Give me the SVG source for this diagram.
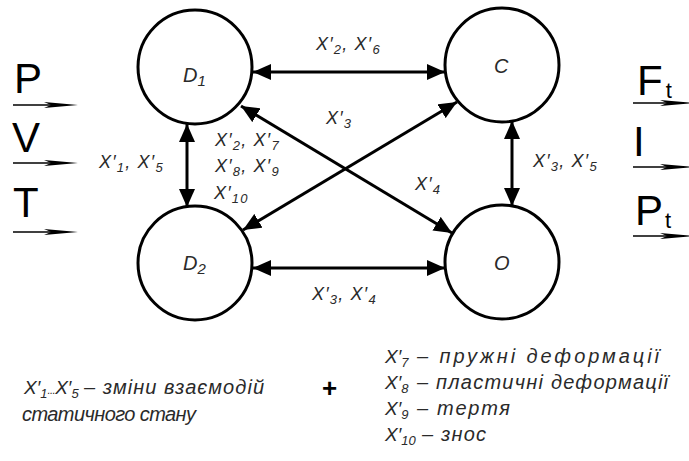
<svg xmlns="http://www.w3.org/2000/svg" width="689" height="461" viewBox="0 0 689 461">
<style>
.node{fill:#fff;stroke:#000;stroke-width:3}
.con{stroke:#000;stroke-width:3;fill:none}
.lbl{font-family:"Liberation Sans",Arial,sans-serif;font-style:italic;font-size:18px;fill:#2a2a2a;letter-spacing:1.2px}
.nl{font-family:"Liberation Sans",Arial,sans-serif;font-style:italic;font-size:20px;fill:#2a2a2a}
.big{font-family:"Liberation Sans",Arial,sans-serif;font-size:42px;fill:#000}
.leg{font-family:"Liberation Sans",Arial,sans-serif;font-style:italic;font-size:20px;fill:#2a2a2a}
.legx{font-family:"Liberation Sans",Arial,sans-serif;font-style:italic;font-size:19px;fill:#2a2a2a}
.sub{font-size:13px}
.thin{stroke:#000;stroke-width:1.3}
</style>
<defs>
<marker id="ah" markerUnits="userSpaceOnUse" markerWidth="18" markerHeight="16" viewBox="0 0 18 16" refX="18" refY="8" orient="auto-start-reverse">
<path d="M0,0 L18,8 L0,16 z" fill="#000"/>
</marker>
<path id="ih" d="M0,-3 L34,0 L0,3 L7,0 z" fill="#000"/>
</defs>
<rect width="689" height="461" fill="#fff"/>

<g id="inputs">
<text class="big" x="14" y="93">P</text>
<line class="thin" x1="13" y1="105" x2="60" y2="105"/>
<use href="#ih" x="44" y="105"/>
<text class="big" x="12" y="152">V</text>
<line class="thin" x1="13" y1="163" x2="60" y2="163"/>
<use href="#ih" x="44" y="163"/>
<text class="big" x="13" y="217">T</text>
<line class="thin" x1="13" y1="232" x2="60" y2="232"/>
<use href="#ih" x="44" y="232"/>
</g>

<g id="outputs">
<text class="big" x="637" y="95">F<tspan font-size="22" dx="3" dy="3">t</tspan></text>
<line class="thin" x1="633" y1="103" x2="670" y2="103"/>
<use href="#ih" x="660" y="103"/>
<text class="big" x="633" y="156">I</text>
<line class="thin" x1="633" y1="167" x2="670" y2="167"/>
<use href="#ih" x="660" y="167"/>
<text class="big" x="635" y="225">P<tspan font-size="22" dx="2" dy="3">t</tspan></text>
<line class="thin" x1="633" y1="236" x2="670" y2="236"/>
<use href="#ih" x="660" y="236"/>
</g>

<g id="connectors">
<line class="con" x1="253" y1="72" x2="445" y2="72" marker-start="url(#ah)" marker-end="url(#ah)"/>
<line class="con" x1="253" y1="268" x2="445" y2="268" marker-start="url(#ah)" marker-end="url(#ah)"/>
<line class="con" x1="187" y1="124" x2="187" y2="207" marker-start="url(#ah)" marker-end="url(#ah)"/>
<line class="con" x1="512" y1="121" x2="512" y2="206" marker-start="url(#ah)" marker-end="url(#ah)"/>
<line class="con" x1="241" y1="106" x2="452" y2="233" marker-start="url(#ah)" marker-end="url(#ah)"/>
<line class="con" x1="243" y1="230" x2="457" y2="102" marker-start="url(#ah)" marker-end="url(#ah)"/>
</g>

<g id="D1"><circle class="node" cx="195" cy="67" r="57"/><text class="nl" x="183" y="82">D<tspan font-size="15" dy="4">1</tspan></text></g>
<g id="D2"><circle class="node" cx="195" cy="263" r="57"/><text class="nl" x="183" y="270">D<tspan font-size="15" dy="4">2</tspan></text></g>
<g id="C"><circle class="node" cx="502" cy="65" r="57"/><text class="nl" x="494" y="73">C</text></g>
<g id="O"><circle class="node" cx="502" cy="262" r="57"/><text class="nl" x="494" y="270">O</text></g>

<g id="labels">
<text class="lbl" x="316" y="50">X′<tspan class="sub" dy="4">2</tspan><tspan dy="-4">, X′</tspan><tspan class="sub" dy="4">6</tspan></text>
<text class="lbl" x="326" y="124">X′<tspan class="sub" dy="4">3</tspan></text>
<text class="lbl" x="415" y="190">X′<tspan class="sub" dy="4">4</tspan></text>
<text class="lbl" x="99" y="168">X′<tspan class="sub" dy="4">1</tspan><tspan dy="-4">, X′</tspan><tspan class="sub" dy="4">5</tspan></text>
<text class="lbl" x="215" y="146">X′<tspan class="sub" dy="4">2</tspan><tspan dy="-4">, X′</tspan><tspan class="sub" dy="4">7</tspan></text>
<text class="lbl" x="215" y="172">X′<tspan class="sub" dy="4">8</tspan><tspan dy="-4">, X′</tspan><tspan class="sub" dy="4">9</tspan></text>
<text class="lbl" x="214" y="199">X′<tspan class="sub" dy="4">10</tspan></text>
<text class="lbl" x="533" y="167">X′<tspan class="sub" dy="4">3</tspan><tspan dy="-4">, X′</tspan><tspan class="sub" dy="4">5</tspan></text>
<text class="lbl" x="312" y="300">X′<tspan class="sub" dy="4">3</tspan><tspan dy="-4">, X′</tspan><tspan class="sub" dy="4">4</tspan></text>
</g>

<g id="legend">
<text class="legx" x="24" y="394">X′<tspan class="sub" dy="4">1</tspan><tspan style="font-size:11px;letter-spacing:-0.5px" dy="-4">...</tspan>X′<tspan class="sub" dy="4">5</tspan></text>
<text class="leg" x="84" y="394" textLength="180" lengthAdjust="spacing">– зміни взаємодій</text>
<text class="leg" x="22" y="421" textLength="174" lengthAdjust="spacing">статичного стану</text>
<text x="322" y="397" font-family="Liberation Sans,Arial,sans-serif" font-size="26" font-weight="bold" fill="#000">+</text>
<text class="legx" x="385" y="363">X′<tspan class="sub" dy="4">7</tspan></text>
<text class="leg" x="417" y="363" textLength="242" lengthAdjust="spacing">– пружні деформації</text>
<text class="legx" x="385" y="389">X′<tspan class="sub" dy="4">8</tspan></text>
<text class="leg" x="417" y="389" textLength="251" lengthAdjust="spacing">– пластичні деформації</text>
<text class="legx" x="385" y="415">X′<tspan class="sub" dy="4">9</tspan></text>
<text class="leg" x="417" y="415" textLength="93" lengthAdjust="spacing">– тертя</text>
<text class="legx" x="385" y="441">X′<tspan class="sub" dy="4">10</tspan></text>
<text class="leg" x="422" y="441" textLength="64" lengthAdjust="spacing">– знос</text>
</g>
</svg>
